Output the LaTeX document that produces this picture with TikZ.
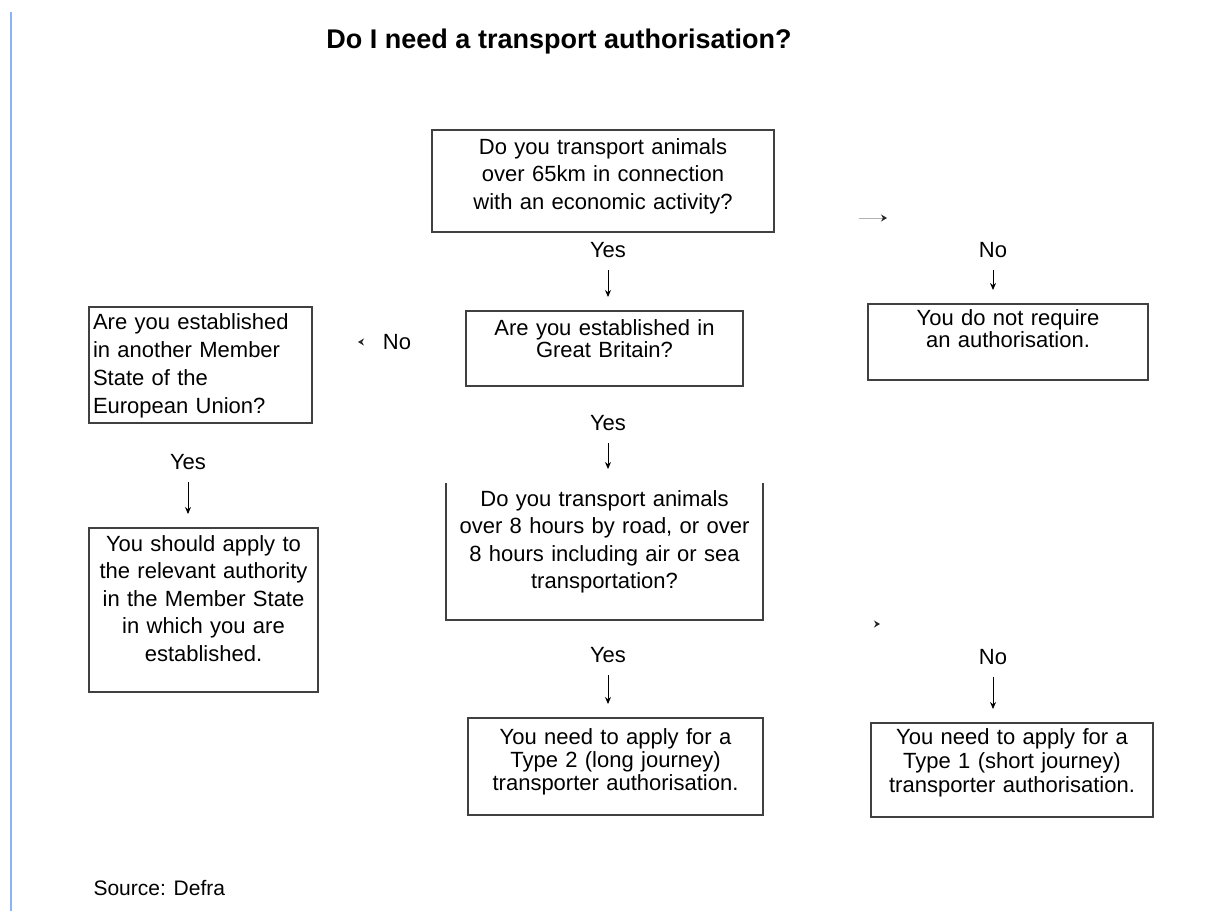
\documentclass[tikz,border=0pt]{standalone}
\usepackage{fontspec}
\setmainfont{Liberation Sans}
\usetikzlibrary{arrows.meta}
\definecolor{marginblue}{RGB}{138,180,248}
\tikzset{
	qbox/.style={draw=black!75,line width=1.2pt,anchor=north west,inner xsep=4pt,inner ysep=0pt,outer sep=0pt,align=center},
	lbl/.style={font=\fontsize{22}{26}\selectfont,inner sep=0pt},
	arr/.style={-{Stealth[length=7pt,width=6pt]},line width=0.9pt,shorten <=12pt,shorten >=14pt},
	stub/.style={-{Stealth[length=6pt,width=7pt,black!85]},line width=0.9pt,black!30},
}
\begin{document}
\begin{tikzpicture}[x=1pt,y=-1pt]
	\useasboundingbox (0,0) rectangle (1206,911);
	\draw[marginblue,line width=1.5pt] (11,12) -- (11,911);
	\node[font=\bfseries\fontsize{27}{30}\selectfont] (title) at (559,42) {Do I need a transport authorisation?};
	% question and answer boxes
	\node[qbox,text width=334pt,text height=24pt,text depth=78pt,font=\fontsize{22}{27.5}\selectfont] (q1) at (432,130)
		{Do you transport animals\\over 65km in connection\\with an economic activity?};
	\node[qbox,text width=269pt,text height=24pt,text depth=51pt,font=\fontsize{22}{22}\selectfont] (q2) at (466,311)
		{Are you established in\\Great Britain?};
	\node[qbox,text width=272pt,text height=21pt,text depth=55pt,font=\fontsize{22}{22}\selectfont] (nreq) at (868,304)
		{You do not require\\an authorisation.};
	\node[qbox,align=left,text width=215pt,text height=22pt,text depth=94pt,font=\fontsize{22}{28}\selectfont] (q3) at (89,307)
		{Are you established\\in another Member\\State of the\\European Union?};
	\node[qbox,text width=221pt,text height=23pt,text depth=141pt,font=\fontsize{22}{27.5}\selectfont] (lend) at (89,528)
		{You should apply to\\the relevant authority\\in the Member State\\in which you are\\established.};
	\node[qbox,draw=none,text width=309pt,text height=23pt,text depth=114pt,font=\fontsize{22}{27.5}\selectfont] (q4) at (446,483)
		{Do you transport animals\\over 8 hours by road, or over\\8 hours including air or sea\\transportation?};
	\draw[draw=black!75,line width=1.2pt] (q4.north west) -- (q4.south west) -- (q4.south east) -- (q4.north east);
	\node[qbox,text width=287pt,text height=26pt,text depth=71pt,font=\fontsize{22}{23}\selectfont] (t2) at (468,718)
		{You need to apply for a\\Type 2 (long journey)\\transporter authorisation.};
	\node[qbox,text width=274pt,text height=21pt,text depth=73pt,font=\fontsize{22}{24}\selectfont] (t1) at (871,723)
		{You need to apply for a\\Type 1 (short journey)\\transporter authorisation.};
	% yes / no labels with their arrows
	\foreach \n/\p/\t/\b in {y1/{608,250}/Yes/q2, n1/{993,250}/No/nreq, y2/{608,423}/Yes/q4,
		y3/{188,462}/Yes/lend, y4/{608,655}/Yes/t2, n4/{993,657}/No/t1}{
		\node[lbl] (\n) at (\p) {\t};
		\draw[arr] (\n.south) -- (\n.south |- \b.north);
	}
	\node[lbl] (n2) at (397,342) {No};
	\path (859,218) coordinate (stubR)
		(359,342) coordinate (stubL)
		(879,624) coordinate (stubB);
	\draw[stub] (stubR) -- ++(28,0);
	\draw[stub] (stubL) -- ++(-1,0);
	\draw[stub] (stubB) -- ++(1,0);
	\node[anchor=west,font=\fontsize{21}{25}\selectfont] (src) at (90,888) {Source: Defra};
\end{tikzpicture}
\end{document}
